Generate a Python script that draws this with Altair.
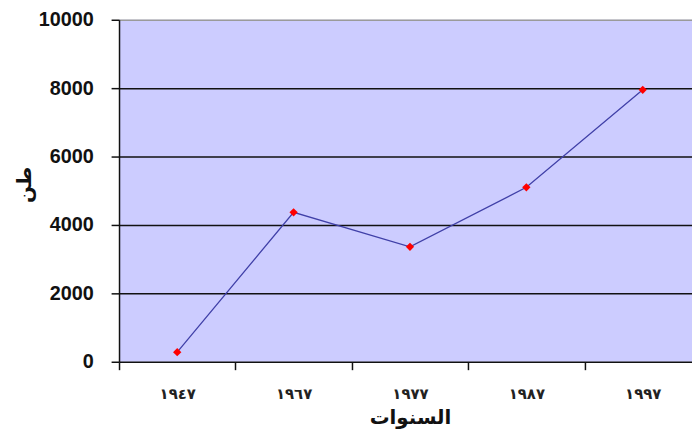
import altair as alt
import pandas as pd

years = ["١٩٤٧", "١٩٦٧", "١٩٧٧", "١٩٨٧", "١٩٩٧"]
values = [280, 4370, 3360, 5100, 7950]
y_ticks = [0, 2000, 4000, 6000, 8000, 10000]
x_title = "السنوات"
y_title = "طن"

df = pd.DataFrame({"year": years, "value": values})

x_enc = alt.X(
    "year:N",
    sort=years,
    scale=alt.Scale(type="band", range=[0, 587], paddingInner=0, paddingOuter=0),
    axis=alt.Axis(
        title=x_title,
        tickBand="extent",
        labelAngle=0,
        domain=False,
        ticks=True,
        tickSize=8,
        tickWidth=1.5,
        tickColor="#111111",
        labelFont="DejaVu Sans",
        labelFontSize=15,
        labelFontWeight="bold",
        labelColor="#222222",
        labelPadding=17,
        titleFont="DejaVu Sans",
        titleFontSize=20,
        titleFontWeight="bold",
        titleColor="#111111",
        titlePadding=6,
    ),
)

y_enc = alt.Y(
    "value:Q",
    scale=alt.Scale(domain=[0, 10000], nice=False),
    axis=alt.Axis(
        values=y_ticks,
        format="d",
        title=y_title,
        titleAngle=-90,
        titleBaseline="middle",
        titleX=-95,
        titleY=166,
        titleFont="DejaVu Sans",
        titleFontSize=20,
        titleFontWeight="bold",
        titleColor="#111111",
        labelFont="Liberation Sans",
        labelFontSize=20,
        labelFontWeight="bold",
        labelColor="#111111",
        labelPadding=18,
        tickSize=8,
        tickWidth=1.5,
        tickColor="#111111",
        domainColor="#111111",
        domainWidth=1.5,
        grid=True,
        gridColor={"condition": {"test": "datum.value == 10000", "value": "#9a9a9a"}, "value": "#111111"},
        gridWidth=1.5,
        gridOpacity=1,
    ),
)

base = alt.Chart(df).encode(x=x_enc, y=y_enc)

line = base.mark_line(color="#4040a8", strokeWidth=1.3)
points = base.mark_point(shape="diamond", filled=True, color="#ff0000", size=70, opacity=1)

chart = (
    alt.layer(line, points)
    .properties(
        width=578,
        height=345,
        autosize=alt.AutoSizeParams(type="none"),
        padding={"left": 112, "top": 10, "right": 0, "bottom": 68},
        background="white",
    )
    .configure_view(fill="#ccccff", strokeWidth=0)
)

chart.save("out.html", embed_options={"renderer": "svg", "actions": False})
